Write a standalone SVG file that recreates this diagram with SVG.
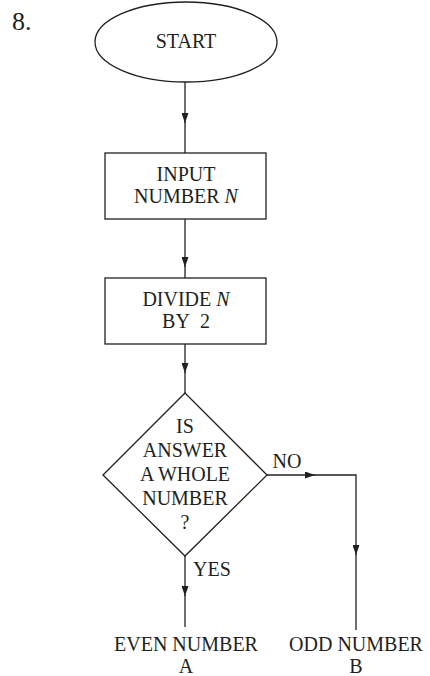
<svg xmlns="http://www.w3.org/2000/svg" width="430" height="676" viewBox="0 0 430 676">
<style>
.s{fill:none;stroke:#231f20;stroke-width:1.3}
.t{font-family:"Liberation Serif","Times New Roman",serif;font-size:20px;fill:#231f20;text-anchor:middle}
.i{font-style:italic}
</style>
<defs>
<marker id="a" markerUnits="userSpaceOnUse" markerWidth="10" markerHeight="7" refX="10" refY="3.5" orient="auto">
<path d="M0,0 L10,3.5 L0,7 z" fill="#231f20"/>
</marker>
</defs>
<rect width="430" height="676" fill="#fff"/>
<text x="12" y="30" style="font-family:'Liberation Serif','Times New Roman',serif;font-size:26px;fill:#231f20">8.</text>
<g id="start">
<ellipse class="s" cx="186" cy="42" rx="91" ry="40"/>
<text class="t" x="186" y="48">START</text>
</g>
<g id="input">
<rect class="s" x="105" y="153" width="161" height="66"/>
<text class="t" x="186" y="181">INPUT</text>
<text class="t" x="186" y="203">NUMBER <tspan class="i">N</tspan></text>
</g>
<g id="divide">
<rect class="s" x="105" y="278" width="161" height="66"/>
<text class="t" x="186" y="306">DIVIDE <tspan class="i">N</tspan></text>
<text class="t" x="186" y="328">BY&#160; 2</text>
</g>
<g id="decision">
<polygon class="s" points="185,393 267,475 185,556 103,475"/>
<text class="t" x="185" y="433">IS</text>
<text class="t" x="185" y="457">ANSWER</text>
<text class="t" x="185" y="481">A WHOLE</text>
<text class="t" x="185" y="505">NUMBER</text>
<text class="t" x="185" y="529">?</text>
</g>
<g id="even">
<text class="t" x="186" y="651">EVEN NUMBER</text>
<text class="t" x="186" y="673">A</text>
</g>
<g id="odd">
<text class="t" x="356" y="651">ODD NUMBER</text>
<text class="t" x="356" y="673">B</text>
</g>
<g id="connectors">
<path class="s" d="M185,82 V123" marker-end="url(#a)"/>
<path class="s" d="M185,122 V153"/>
<path class="s" d="M185,219 V267" marker-end="url(#a)"/>
<path class="s" d="M185,266 V278"/>
<path class="s" d="M185,344 V373" marker-end="url(#a)"/>
<path class="s" d="M185,372 V393"/>
<path class="s" d="M267,475 H315" marker-end="url(#a)"/>
<path class="s" d="M314,475 H356 V555" marker-end="url(#a)"/>
<path class="s" d="M356,554 V630"/>
<path class="s" d="M185,556 V596" marker-end="url(#a)"/>
<path class="s" d="M185,595 V627"/>
<text class="t" x="287" y="468">NO</text>
<text class="t" x="212" y="576">YES</text>
</g>
</svg>
